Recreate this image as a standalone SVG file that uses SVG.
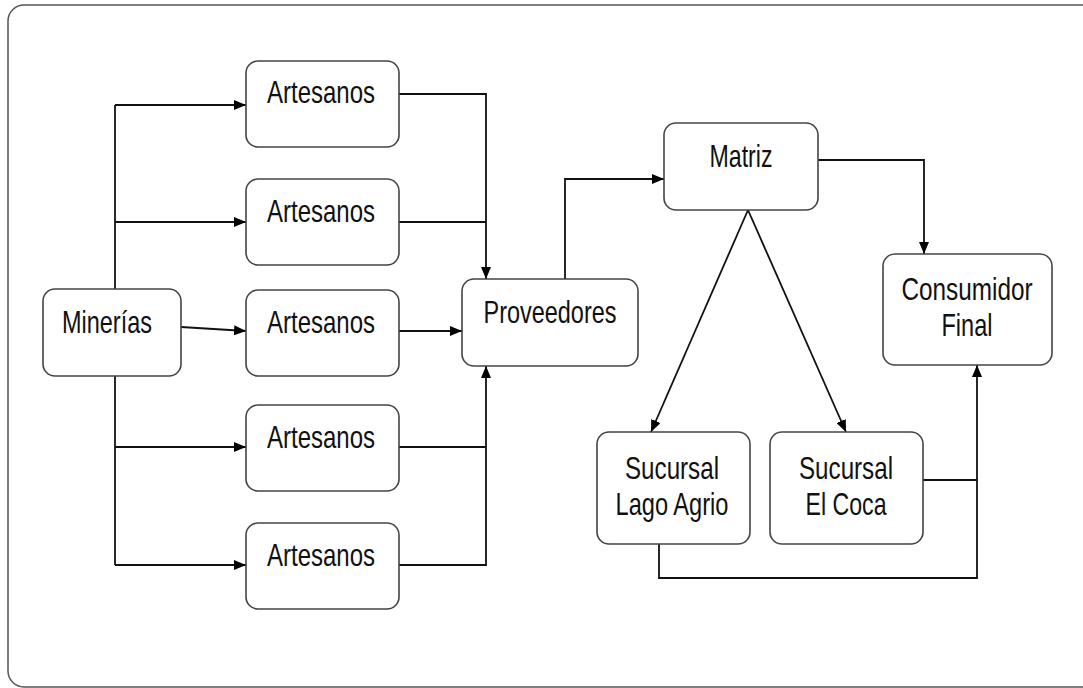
<svg xmlns="http://www.w3.org/2000/svg" width="1083" height="688" viewBox="0 0 1083 688">
  <style>
    .frame { fill: #ffffff; stroke: #555555; stroke-width: 1.5; }
    .box { fill: #ffffff; stroke: #444444; stroke-width: 1.6; }
    .lbl { font-family: "Liberation Sans", Arial, sans-serif; font-size: 32px; fill: #111111; text-anchor: middle; }
    .wire { fill: none; stroke: #111111; stroke-width: 1.8; }
    .arrow { fill: none; stroke: #111111; stroke-width: 1.8; marker-end: url(#tip); }
  </style>
  <defs>
    <marker id="tip" viewBox="0 0 12 10" refX="12" refY="5" markerWidth="12" markerHeight="10" markerUnits="userSpaceOnUse" orient="auto">
      <path d="M0,0 L12,5 L0,10 Z" fill="#000000"/>
    </marker>
  </defs>

  <rect class="frame" x="8" y="5" width="1090" height="682" rx="16" ry="16"/>

  <g id="connectors">
    <!-- Minerías feeding the five Artesanos -->
    <polyline class="wire" points="115,105 115,565"/>
    <line class="arrow" x1="115" y1="105" x2="246" y2="105"/>
    <line class="arrow" x1="115" y1="222" x2="246" y2="222"/>
    <line class="arrow" x1="181" y1="327" x2="246" y2="331"/>
    <line class="arrow" x1="115" y1="447" x2="246" y2="447"/>
    <line class="arrow" x1="115" y1="565" x2="246" y2="565"/>
    <!-- Artesanos into Proveedores -->
    <polyline class="arrow" points="399,94 486,94 486,279"/>
    <line class="wire" x1="399" y1="222" x2="486" y2="222"/>
    <line class="arrow" x1="399" y1="331" x2="462" y2="331"/>
    <polyline class="arrow" points="399,565 486,565 486,366"/>
    <line class="wire" x1="399" y1="447" x2="486" y2="447"/>
    <!-- Proveedores to Matriz -->
    <polyline class="arrow" points="565,279 565,179 664,179"/>
    <!-- Matriz to Consumidor Final -->
    <polyline class="arrow" points="818,160 924,160 924,254"/>
    <!-- Matriz to the branches -->
    <line class="arrow" x1="748" y1="210" x2="651" y2="432"/>
    <line class="arrow" x1="748" y1="210" x2="846" y2="432"/>
    <!-- Branches to Consumidor Final -->
    <line class="wire" x1="923" y1="480" x2="977" y2="480"/>
    <polyline class="arrow" points="659,544 659,578 977,578 977,365"/>
  </g>

  <g id="mineria">
    <rect class="box" x="43" y="289" width="138" height="87" rx="12"/>
    <text class="lbl" x="107" y="333" textLength="90" lengthAdjust="spacingAndGlyphs">Minerías</text>
  </g>

  <g id="artesanos-1">
    <rect class="box" x="246" y="61" width="153" height="86" rx="12"/>
    <text class="lbl" x="321" y="103" textLength="108" lengthAdjust="spacingAndGlyphs">Artesanos</text>
  </g>
  <g id="artesanos-2">
    <rect class="box" x="246" y="179" width="153" height="86" rx="12"/>
    <text class="lbl" x="321" y="222" textLength="108" lengthAdjust="spacingAndGlyphs">Artesanos</text>
  </g>
  <g id="artesanos-3">
    <rect class="box" x="246" y="290" width="153" height="86" rx="12"/>
    <text class="lbl" x="321" y="333" textLength="108" lengthAdjust="spacingAndGlyphs">Artesanos</text>
  </g>
  <g id="artesanos-4">
    <rect class="box" x="246" y="405" width="153" height="86" rx="12"/>
    <text class="lbl" x="321" y="448" textLength="108" lengthAdjust="spacingAndGlyphs">Artesanos</text>
  </g>
  <g id="artesanos-5">
    <rect class="box" x="246" y="523" width="153" height="86" rx="12"/>
    <text class="lbl" x="321" y="566" textLength="108" lengthAdjust="spacingAndGlyphs">Artesanos</text>
  </g>

  <g id="proveedores">
    <rect class="box" x="462" y="279" width="176" height="87" rx="12"/>
    <text class="lbl" x="550" y="323" textLength="133" lengthAdjust="spacingAndGlyphs">Proveedores</text>
  </g>

  <g id="matriz">
    <rect class="box" x="664" y="123" width="154" height="87" rx="12"/>
    <text class="lbl" x="741" y="167" textLength="63" lengthAdjust="spacingAndGlyphs">Matriz</text>
  </g>

  <g id="consumidor-final">
    <rect class="box" x="883" y="254" width="169" height="111" rx="12"/>
    <text class="lbl" x="967" y="300" textLength="131" lengthAdjust="spacingAndGlyphs">Consumidor</text>
    <text class="lbl" x="967" y="336" textLength="51" lengthAdjust="spacingAndGlyphs">Final</text>
  </g>

  <g id="sucursal-lago-agrio">
    <rect class="box" x="597" y="432" width="153" height="112" rx="12"/>
    <text class="lbl" x="672" y="479" textLength="94" lengthAdjust="spacingAndGlyphs">Sucursal</text>
    <text class="lbl" x="672" y="515" textLength="113" lengthAdjust="spacingAndGlyphs">Lago Agrio</text>
  </g>

  <g id="sucursal-el-coca">
    <rect class="box" x="770" y="432" width="153" height="112" rx="12"/>
    <text class="lbl" x="846" y="479" textLength="94" lengthAdjust="spacingAndGlyphs">Sucursal</text>
    <text class="lbl" x="846" y="515" textLength="81" lengthAdjust="spacingAndGlyphs">El Coca</text>
  </g>
</svg>
